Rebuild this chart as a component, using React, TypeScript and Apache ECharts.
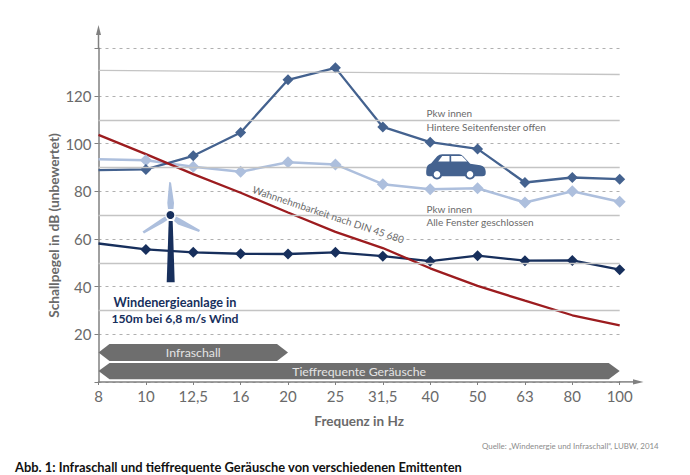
import React, { useEffect, useRef } from "react";
import * as echarts from "echarts";

const frequencies = ["8", "10", "12,5", "16", "20", "25", "31,5", "40", "50", "63", "80", "100"];
const yTicks = [20, 40, 60, 80, 100, 120];
const pkwOffen = [88.9, 89.2, 94.9, 104.7, 126.8, 131.8, 107, 100.6, 97.8, 83.7, 85.8, 85.1];
const pkwGeschlossen = [93.4, 93, 90.3, 88.2, 92.2, 91.3, 83, 80.9, 81.3, 75.3, 80, 75.6];
const windenergie = [58.1, 55.6, 54.4, 53.8, 53.7, 54.4, 52.8, 50.7, 53, 50.9, 51, 47.1];
const wahrnehmbarkeit = [103.7, 95.6, 87.2, 79.4, 71.1, 63, 56.2, 47.7, 40.3, 34.1, 28, 23.8];
const solidLines = [
  [130.7, 129],
  [110, 110],
  [90, 90],
  [70, 70],
  [50, 50],
  [30, 30],
];
const bandLabels = ["Infraschall", "Tieffrequente Geräusche"];
const bandStart = [0, 0];
const bandEnd = [4, 11];
const bandTop = [15.9, 8];
const bandBottom = [8.8, 1.2];

const FONT = "Lato, 'Open Sans', sans-serif";
const GREY = "#6a6a6a";
const AXIS = "#808080";
const BLUE = "#44628f";
const LIGHT = "#adbfdd";
const DARK = "#172f5c";
const RED = "#9c1c1f";

const carBody =
  "M0 17 Q0 10 5 9 L11 2 Q13 0 16 0 L33 0 Q35 0 37 2 L44 9.5 L54 11 Q59 12 59.5 17 L59.5 19 Q59.5 22 56 22 L3 22 Q0 22 0 19 Z";
echarts.graphic.registerShape("carBody", echarts.graphic.extendPath(carBody, {}));

function markers(values: number[]) {
  return values.map((v, i) => (i === 0 ? { value: v, symbol: "none" } : { value: v }));
}

export default function App() {
  const ref = useRef<HTMLDivElement>(null);
  useEffect(() => {
    document.body.style.margin = "0";
    const chart = echarts.init(ref.current!, undefined, { renderer: "svg" });
    const txt = (x: number, y: number, text: string, size: number, fill: string, extra: any = {}) => ({
      type: "text",
      x,
      y,
      z: 20,
      style: { text, fontSize: size, fontFamily: FONT, fill, textVerticalAlign: "middle", ...extra.style },
      ...extra.el,
    });
    const carX = 426.2;
    const carY = 154.3;
    const wheel = (dx: number) => [
      { type: "circle", x: carX + dx, y: carY + 20, z: 21, shape: { r: 5.2 }, style: { fill: BLUE } },
      { type: "circle", x: carX + dx, y: carY + 20, z: 22, shape: { r: 3.3 }, style: { fill: "#fff" } },
    ];
    chart.setOption({
      animation: false,
      backgroundColor: "#fff",
      grid: { left: 98.5, right: 70.3, top: 48.3, bottom: 93 },
      xAxis: {
        type: "category",
        data: frequencies,
        boundaryGap: false,
        name: "Frequenz in Hz",
        nameLocation: "middle",
        nameGap: 32,
        nameTextStyle: { fontFamily: FONT, fontSize: 13.5, fontWeight: "bold", color: GREY },
        axisLine: { lineStyle: { color: AXIS, width: 1.5 } },
        axisTick: { lineStyle: { color: AXIS, width: 1 }, length: 3, alignWithLabel: true },
        axisLabel: { fontFamily: FONT, fontSize: 15, color: GREY, margin: 6, interval: 0 },
        splitLine: { show: false },
      },
      yAxis: {
        type: "value",
        min: 0,
        max: 140,
        interval: 20,
        axisLine: { show: true, lineStyle: { color: AXIS, width: 1.5 } },
        axisTick: { show: true, lineStyle: { color: AXIS, width: 1 }, length: 4 },
        axisLabel: {
          fontFamily: FONT,
          fontSize: 15,
          color: GREY,
          margin: 7,
          formatter: (v: number) => (yTicks.includes(v) ? String(v) : ""),
        },
        splitLine: { show: true, lineStyle: { color: "#b0b0b0", width: 1, type: [3, 4] } },
      },
      series: [
        {
          type: "line",
          name: "Raster",
          data: [],
          silent: true,
          markLine: {
            silent: true,
            symbol: "none",
            label: { show: false },
            lineStyle: { color: "#c4c4c4", width: 1.3, type: "solid" },
            data: solidLines.map(([a, b]) => [
              { coord: [frequencies[0], a] },
              { coord: [frequencies[11], b] },
            ]),
          },
        },
        {
          type: "line",
          name: "Pkw innen, Alle Fenster geschlossen",
          data: markers(pkwGeschlossen),
          symbol: "diamond",
          symbolSize: 12,
          lineStyle: { color: LIGHT, width: 2.5 },
          itemStyle: { color: LIGHT },
        },
        {
          type: "line",
          name: "Pkw innen, Hintere Seitenfenster offen",
          data: markers(pkwOffen),
          symbol: "diamond",
          symbolSize: 11,
          lineStyle: { color: BLUE, width: 2.3 },
          itemStyle: { color: BLUE },
        },
        {
          type: "line",
          name: "Windenergieanlage",
          data: markers(windenergie),
          symbol: "diamond",
          symbolSize: 11,
          lineStyle: { color: DARK, width: 2.3 },
          itemStyle: { color: DARK },
        },
        {
          type: "line",
          name: "Wahrnehmbarkeit",
          data: wahrnehmbarkeit,
          symbol: "none",
          lineStyle: { color: RED, width: 2.3 },
        },
        {
          type: "custom",
          name: "Bereiche",
          silent: true,
          data: bandLabels.map((_, i) => [bandStart[i], bandEnd[i], bandTop[i], bandBottom[i]]),
          encode: { x: [0, 1], y: [2, 3] },
          renderItem: (params: any, api: any) => {
            const a = api.coord([api.value(0), api.value(2)]);
            const b = api.coord([api.value(1), api.value(3)]);
            const mid = (a[1] + b[1]) / 2;
            const notch = 11;
            return {
              type: "group",
              children: [
                {
                  type: "polygon",
                  shape: {
                    points: [
                      [a[0], mid],
                      [a[0] + notch, a[1]],
                      [b[0] - notch, a[1]],
                      [b[0], mid],
                      [b[0] - notch, b[1]],
                      [a[0] + notch, b[1]],
                    ],
                  },
                  style: { fill: "#6e6e6e" },
                },
                {
                  type: "text",
                  x: (a[0] + b[0]) / 2,
                  y: mid,
                  style: {
                    text: bandLabels[params.dataIndex],
                    fontFamily: FONT,
                    fontSize: 12.3,
                    fill: "#e4e4e4",
                    textAlign: "center",
                    textVerticalAlign: "middle",
                  },
                },
              ],
            };
          },
        },
      ],
      graphic: [
        { type: "line", z: 5, shape: { x1: 98.5, y1: 49, x2: 98.5, y2: 32 }, style: { stroke: AXIS, lineWidth: 1.5 } },
        { type: "polygon", z: 5, shape: { points: [[98.5, 25], [96, 35], [101, 35]] }, style: { fill: AXIS } },
        { type: "line", z: 5, shape: { x1: 619, y1: 381.9, x2: 636, y2: 381.9 }, style: { stroke: AXIS, lineWidth: 1.5 } },
        { type: "polygon", z: 5, shape: { points: [[643.5, 381.9], [633, 379.2], [633, 384.6]] }, style: { fill: AXIS } },

        { type: "polygon", z: 20, shape: { points: [[169.2, 182], [171, 182.5], [174, 203], [173.5, 209], [168, 209], [167.3, 203]] }, style: { fill: LIGHT } },
        { type: "polygon", z: 20, shape: { points: [[142.5, 231.5], [161, 219], [165.5, 216.2], [167.5, 220], [163, 223], [144, 233.5]] }, style: { fill: LIGHT } },
        { type: "polygon", z: 20, shape: { points: [[200, 230], [199, 232], [178, 224.5], [174, 221], [176, 216.5], [180, 218.5]] }, style: { fill: LIGHT } },
        { type: "polygon", z: 20, shape: { points: [[168.7, 221], [172.7, 221], [174.7, 282.3], [166.7, 282.3]] }, style: { fill: DARK } },
        { type: "circle", z: 21, x: 170.4, y: 215, shape: { r: 4.6 }, style: { fill: DARK, stroke: "#fff", lineWidth: 1.3 } },

        { type: "carBody", z: 20, x: carX, y: carY, style: { fill: BLUE } },
        { type: "polygon", z: 21, shape: { points: [[carX + 12, carY + 7.3], [carX + 16, carY + 1.7], [carX + 23.3, carY + 1.7], [carX + 23.3, carY + 7.3]] }, style: { fill: "#fff" } },
        { type: "polygon", z: 21, shape: { points: [[carX + 25, carY + 7.3], [carX + 25, carY + 1.7], [carX + 35.7, carY + 1.7], [carX + 41, carY + 7.3]] }, style: { fill: "#fff" } },
        ...wheel(10.8),
        ...wheel(43.8),

        txt(53, 225.5, "Schallpegel in dB (unbewertet)", 13.7, GREY, {
          style: { fontWeight: "bold", textAlign: "center" },
          el: { rotation: Math.PI / 2 },
        }),
        txt(426.5, 113.3, "Pkw innen", 10, GREY),
        txt(426.5, 126.5, "Hintere Seitenfenster offen", 10, GREY),
        txt(426.5, 208.7, "Pkw innen", 10, GREY),
        txt(426.5, 222, "Alle Fenster geschlossen", 10, GREY),
        txt(253, 189, "Wahnnehmbarkeit nach DIN 45 680", 10, GREY, { el: { rotation: -0.325 } }),
        txt(175, 302, "Windenergieanlage in", 12.7, DARK, { style: { fontWeight: "bold", textAlign: "center" } }),
        txt(175, 318, "150m bei 6,8 m/s Wind", 12.2, DARK, { style: { fontWeight: "bold", textAlign: "center" } }),
        txt(482, 446, "Quelle: „Windenergie und Infraschall“, LUBW, 2014", 7.9, "#8c8c8c"),
        txt(15, 467, "Abb. 1: Infraschall und tieffrequente Geräusche von verschiedenen Emittenten", 12.9, "#111", { style: { fontWeight: "bold" } }),
      ],
    });
    return () => chart.dispose();
  }, []);
  return <div ref={ref} style={{ width: 690, height: 475 }} />;
}
